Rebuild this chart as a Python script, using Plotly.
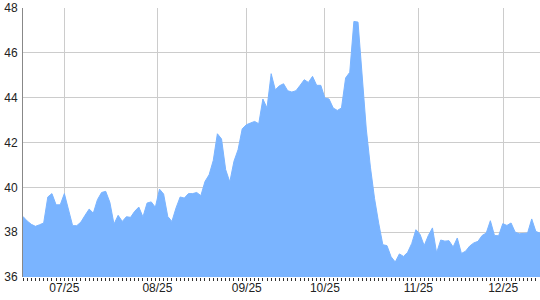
import plotly.graph_objects as go

values = [
    38.70, 38.50, 38.35, 38.26, 38.33, 38.41, 39.57, 39.72, 39.22, 39.22,
    39.72, 39.00, 38.29, 38.29, 38.45, 38.75, 39.03, 38.85, 39.45, 39.77,
    39.82, 39.33, 38.36, 38.75, 38.48, 38.69, 38.66, 38.93, 39.12, 38.68,
    39.30, 39.35, 39.11, 39.92, 39.70, 38.70, 38.48, 39.08, 39.57, 39.52,
    39.72, 39.72, 39.77, 39.63, 40.26, 40.56, 41.20, 42.39, 42.16, 40.79,
    40.24, 41.16, 41.68, 42.61, 42.79, 42.87, 42.94, 42.84, 43.94, 43.54,
    45.07, 44.35, 44.53, 44.62, 44.31, 44.25, 44.31, 44.55, 44.80, 44.68,
    44.95, 44.55, 44.55, 43.98, 43.94, 43.54, 43.43, 43.54, 44.88, 45.13,
    47.40, 47.37, 45.00, 42.60, 40.90, 39.50, 38.40, 37.44, 37.40, 36.90,
    36.67, 37.03, 36.92, 37.10, 37.50, 38.11, 37.90, 37.40, 37.85, 38.19,
    37.08, 37.65, 37.60, 37.62, 37.34, 37.74, 37.05, 37.15, 37.38, 37.52,
    37.59, 37.85, 37.96, 38.51, 37.85, 37.84, 38.38, 38.30, 38.41, 38.00,
    37.93, 37.95, 37.96, 38.59, 38.03, 37.96,
]
x_index = list(range(len(values)))

tick_positions = [10, 32.5, 54.1, 73, 95.6, 116.1]
tick_labels = ["07/25", "08/25", "09/25", "10/25", "11/25", "12/25"]
y_ticks = [36, 38, 40, 42, 44, 46, 48]

fig = go.Figure()
fig.add_trace(go.Scatter(
    x=x_index, y=values, mode="lines",
    line=dict(color="#7ab4ff", width=1),
    fill="tozeroy", fillcolor="#7ab4ff",
    hoverinfo="skip",
))

font = dict(family="Liberation Sans, Arial, sans-serif", size=12, color="#222222")
fig.update_layout(
    width=540, height=300,
    margin=dict(l=23, r=0, t=8, b=23),
    paper_bgcolor="white", plot_bgcolor="white",
    showlegend=False, font=font,
)
fig.update_xaxes(
    range=[0, len(values) - 1],
    tickmode="array", tickvals=tick_positions, ticktext=tick_labels,
    showgrid=True, gridcolor="#cccccc", gridwidth=1,
    ticks="", showline=False, zeroline=False,
    minor=dict(ticks="outside", ticklen=3, tickcolor="#333333", tickwidth=1,
               tick0=0, dtick=1, showgrid=False),
    tickfont=font, ticklabelstandoff=2,
)
fig.update_yaxes(
    range=[36, 48], tickvals=y_ticks,
    showgrid=True, gridcolor="#cccccc", gridwidth=1,
    showline=True, linecolor="#888888", linewidth=1,
    ticks="", zeroline=False, tickfont=font, ticklabelstandoff=2,
)

fig.write_html("out.html")
